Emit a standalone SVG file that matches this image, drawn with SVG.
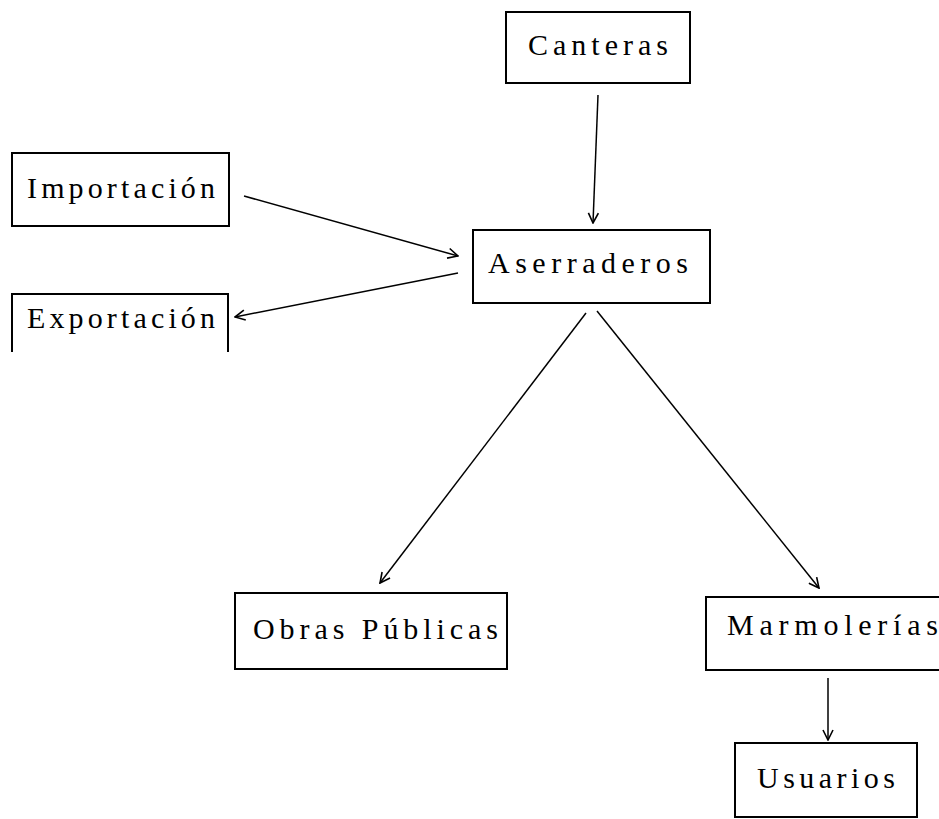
<svg xmlns="http://www.w3.org/2000/svg" width="939" height="819" viewBox="0 0 939 819">
<style>
.box{fill:none;stroke:#000;stroke-width:2}
.lbl{font-family:"Liberation Serif","DejaVu Serif",serif;font-size:30px;fill:#000}
.con{fill:none;stroke:#000;stroke-width:1.5}
</style>
<defs>
<marker id="ah" viewBox="0 0 12 12" refX="11" refY="6" markerWidth="12" markerHeight="12" markerUnits="userSpaceOnUse" orient="auto">
<path d="M1,1 L11,6 L1,11" fill="none" stroke="#000" stroke-width="1.6"/>
</marker>
</defs>
<rect width="939" height="819" fill="#fff"/>
<g id="canteras">
<rect class="box" x="506" y="12" width="184" height="71"/>
<text class="lbl" x="528" y="55" textLength="140" lengthAdjust="spacing">Canteras</text>
</g>
<g id="importacion">
<rect class="box" x="12" y="153" width="217" height="73"/>
<text class="lbl" x="27" y="198" textLength="188" lengthAdjust="spacing">Importación</text>
</g>
<g id="exportacion">
<path class="box" d="M12,352 L12,294 L228,294 L228,352"/>
<text class="lbl" x="27" y="328" textLength="188" lengthAdjust="spacing">Exportación</text>
</g>
<g id="aserraderos">
<rect class="box" x="473" y="230" width="237" height="73"/>
<text class="lbl" x="488" y="273" textLength="200" lengthAdjust="spacing">Aserraderos</text>
</g>
<g id="obras">
<rect class="box" x="235" y="593" width="272" height="76"/>
<text class="lbl" x="253" y="639" textLength="245" lengthAdjust="spacing">Obras Públicas</text>
</g>
<g id="marmolerias">
<rect class="box" x="706" y="597" width="250" height="73"/>
<text class="lbl" x="727" y="635" textLength="211" lengthAdjust="spacing">Marmolerías</text>
</g>
<g id="usuarios">
<rect class="box" x="735" y="743" width="182" height="74"/>
<text class="lbl" x="757" y="788" textLength="138" lengthAdjust="spacing">Usuarios</text>
</g>
<g id="connectors">
<line class="con" x1="598" y1="95" x2="593" y2="223" marker-end="url(#ah)"/>
<line class="con" x1="244" y1="196" x2="458" y2="256" marker-end="url(#ah)"/>
<line class="con" x1="458" y1="273" x2="235" y2="317" marker-end="url(#ah)"/>
<line class="con" x1="586" y1="313" x2="380" y2="583" marker-end="url(#ah)"/>
<line class="con" x1="597" y1="311" x2="819" y2="588" marker-end="url(#ah)"/>
<line class="con" x1="828" y1="678" x2="828" y2="740" marker-end="url(#ah)"/>
</g>
</svg>
